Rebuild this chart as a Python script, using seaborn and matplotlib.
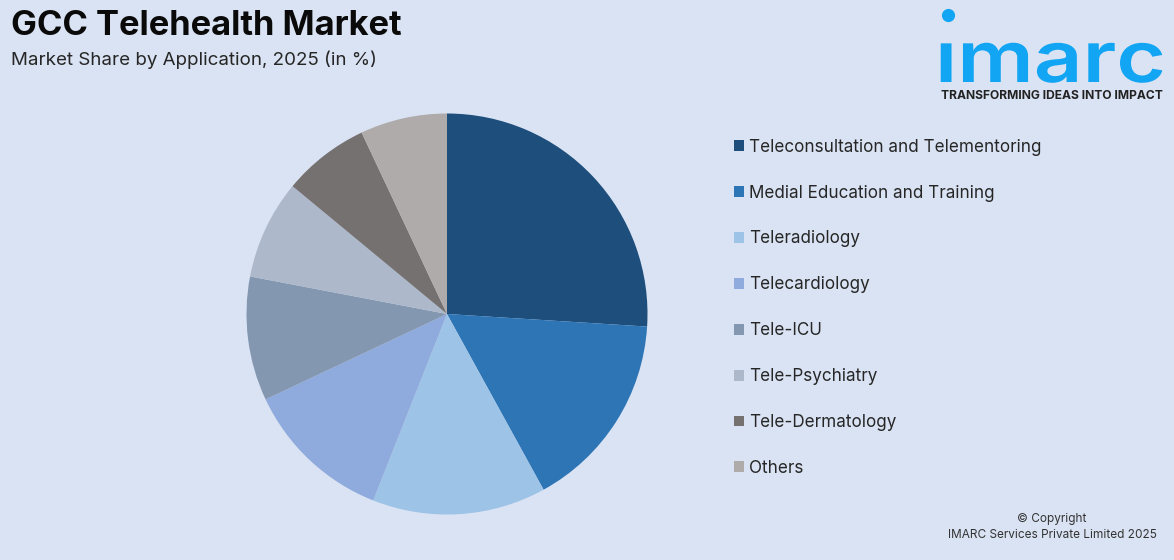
import matplotlib
matplotlib.use("Agg")
import matplotlib.pyplot as plt
from matplotlib.patches import Patch
from matplotlib.patheffects import AbstractPathEffect
from matplotlib.transforms import Affine2D
import seaborn as sns

# values (in %)
applications = ["Teleconsultation and Telementoring", "Medial Education and Training",
                "Teleradiology", "Telecardiology", "Tele-ICU", "Tele-Psychiatry",
                "Tele-Dermatology", "Others"]
shares = [26, 16, 14, 12, 10, 8, 7, 7]
colors = ["#1D4E7C", "#2E75B6", "#9DC3E6", "#8FAADC", "#8497B0", "#ADB9CA", "#767171", "#AFABAB"]

bg = "#DAE3F3"
sns.set_theme(style="white")
plt.rcParams["font.family"] = ["Inter", "DejaVu Sans"]
palette = sns.color_palette(colors)

W, H = 1174, 560
fig = plt.figure(figsize=(W / 100, H / 100), dpi=100, facecolor=bg)


# stretches a text sideways, the logo lettering is wider than any installed font
class Stretch(AbstractPathEffect):
    def __init__(self, sx):
        super().__init__()
        self.sx = sx

    def draw_path(self, renderer, gc, tpath, affine, rgbFace=None):
        renderer.draw_path(gc, tpath, Affine2D().scale(self.sx, 1) + affine, rgbFace)


# Pie, centre (447, 314) radius 201 px
ax = fig.add_axes([(447 - 200.5) / W, (H - 314 - 200.5) / H, 401 / W, 401 / H])
ax.pie(shares, colors=palette, startangle=90, counterclock=False, radius=1,
       wedgeprops={"linewidth": 0, "edgecolor": "none"})
ax.set_xlim(-1, 1)
ax.set_ylim(-1, 1)
ax.set_aspect("equal")

# Titles
fig.text(11 / W, 1 - 35 / H, "GCC Telehealth Market", fontsize=24.8, fontweight="bold",
         color="#0A0A0A", va="baseline", ha="left")
fig.text(11 / W, 1 - 65 / H, "Market Share by Application, 2025 (in %)", fontsize=13.5,
         color="#262626", va="baseline", ha="left")

# Legend
handles = [Patch(facecolor=c, edgecolor="none") for c in palette]
fig.legend(handles, applications, loc="upper left", bbox_to_anchor=(723.7 / W, 1 - 128.5 / H),
           frameon=False, fontsize=12.3, labelcolor="#262626", handlelength=0.6, handleheight=0.6,
           handletextpad=0.27, labelspacing=1.69, borderpad=0.6, borderaxespad=0)

# Logo
fig.text(935 / W, 1 - 82 / H, "\u0131marc", fontsize=51, fontweight="semibold", color="#12A5F4",
         va="baseline", ha="left", path_effects=[Stretch(1.2)])
logo = fig.add_axes([0, 0, 1, 1], facecolor="none")
logo.set_xlim(0, W)
logo.set_ylim(H, 0)
logo.axis("off")
logo.scatter([948], [15], s=90, color="#12A5F4", linewidths=0)
fig.text(1052 / W, 1 - 99 / H, "TRANSFORMING IDEAS INTO IMPACT", fontsize=8.7, fontweight="bold",
         color="#222222", va="baseline", ha="center")

# Copyright
fig.text(1052 / W, 1 - 519 / H, "\u00a9 Copyright", fontsize=8.5, color="#333333", va="center", ha="center")
fig.text(1052 / W, 1 - 535 / H, "IMARC Services Private Limited 2025", fontsize=8.5, color="#333333",
         va="center", ha="center")

fig.savefig("out.png", dpi=100, facecolor=bg)
